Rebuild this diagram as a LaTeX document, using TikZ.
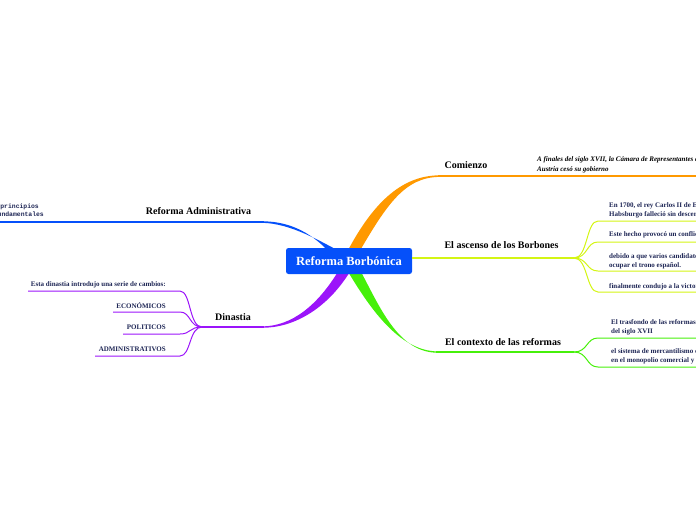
\documentclass[tikz,border=0pt]{standalone}
\usepackage{fontspec}
\setmainfont{Liberation Serif}
\setmonofont{Liberation Mono}
\usetikzlibrary{calc,positioning}
\definecolor{mmblue}{RGB}{5,80,250}
\definecolor{mmorange}{RGB}{255,153,0}
\definecolor{mmlime}{RGB}{212,245,20}
\definecolor{mmgreen}{RGB}{70,240,10}
\definecolor{mmpurple}{RGB}{155,20,250}
\definecolor{mmnavy}{RGB}{30,38,85}

\begin{document}
\begin{tikzpicture}[x=1pt,y=-1pt,
    rootbox/.style={fill=mmblue,rounded corners=2.5pt,text=white,inner sep=0pt,
      minimum width=126pt,minimum height=26pt,font=\fontsize{12.5}{14}\selectfont\bfseries},
    topic/.style={inner sep=0pt,font=\fontsize{10}{12}\selectfont\bfseries},
    kid/.style={inner sep=0pt,text=mmnavy,align=left,font=\fontsize{7}{9}\selectfont\bfseries},
    twig/.style={line width=1pt}]
  \useasboundingbox (0,0) rectangle (696,520);
  \clip (0,0) rectangle (696,520);
  \coordinate (hub) at (349,261);

  % thick branches (tapered), drawn under the root box
  \fill[mmorange] ($(hub)+(-3,-7)$) .. controls (375,198) and (405,175.3) .. (440,175.3)
    -- (440,176.9) .. controls (405,177) and (387,204) .. ($(hub)+(9,-7)$) -- cycle;
  \fill[mmblue] ($(hub)+(-18,-7)$) .. controls (314,235) and (292,221.2) .. (262,221.3)
    -- (262,222.8) .. controls (292,223.4) and (321,242) .. ($(hub)+(-4,-7)$) -- cycle;
  \fill[mmpurple] ($(hub)+(-10,9)$) .. controls (318,305) and (292,326.3) .. (262,326.4)
    -- (262,327.7) .. controls (292,328.2) and (327,310) .. ($(hub)+(2,9)$) -- cycle;
  \fill[mmgreen] ($(hub)+(-2,9)$) .. controls (368,305) and (398,351.3) .. (438,351.4)
    -- (438,352.7) .. controls (398,353.2) and (379,305) .. ($(hub)+(11,9)$) -- cycle;

  \node[rootbox] (root) at (hub) {Reforma Borbónica};

  % Comienzo
  \coordinate (comS) at (438,176.1);
  \draw[mmorange,line width=1.4pt] (comS) -- (696,176.1);
  \node[topic] (com) at (466,165) {Comienzo};
  \node[inner sep=0pt,align=left,anchor=base west,font=\fontsize{7}{10}\selectfont\bfseries\itshape] (com1) at (537,171.5)
    {A finales del siglo XVII, la Cámara de Representantes de\\Austria cesó su gobierno};

  % El ascenso de los Borbones
  \coordinate (ascJ) at (574,258);
  \draw[mmlime,line width=1.4pt] (root.east |- ascJ) -- (ascJ);
  \node[topic] (asc) at (501.5,245) {El ascenso de los Borbones};
  \coordinate (asc1) at (598,221);
  \coordinate (asc2) at (598,242);
  \coordinate (asc3) at (598,271);
  \coordinate (asc4) at (598,292);
  \draw[mmlime,twig] (ascJ) .. controls +(14,0) and +(-12,0) .. (asc1) -- (696,221);
  \draw[mmlime,twig] (ascJ) .. controls +(14,0) and +(-12,0) .. (asc2) -- (696,242);
  \draw[mmlime,twig] (ascJ) .. controls +(14,0) and +(-12,0) .. (asc3) -- (696,271);
  \draw[mmlime,twig] (ascJ) .. controls +(14,0) and +(-12,0) .. (asc4) -- (696,292);
  \node[kid,anchor=base west] (a1) at (609,216.5) {En 1700, el rey Carlos II de España\\Habsburgo falleció sin descendencia};
  \node[kid,anchor=base west] (a2) at (609,236.5) {Este hecho provocó un conflicto};
  \node[kid,anchor=base west] (a3) at (609,267.5) {debido a que varios candidatos\\ocupar el trono español.};
  \node[kid,anchor=base west] (a4) at (609,288.5) {finalmente condujo a la victoria};

  % El contexto de las reformas
  \coordinate (ctxS) at (436,352);
  \coordinate (ctxJ) at (574,352);
  \draw[mmgreen,line width=1.4pt] (ctxS) -- (ctxJ);
  \node[topic] (ctx) at (503,342) {El contexto de las reformas};
  \coordinate (ctx1) at (598,338);
  \coordinate (ctx2) at (598,367);
  \draw[mmgreen,twig] (ctxJ) .. controls +(14,0) and +(-12,0) .. (ctx1) -- (696,338);
  \draw[mmgreen,twig] (ctxJ) .. controls +(14,0) and +(-12,0) .. (ctx2) -- (696,367);
  \node[kid,anchor=base west] (c1) at (611,333.5) {El trasfondo de las reformas\\del siglo XVII};
  \node[kid,anchor=base west] (c2) at (611,362.5) {el sistema de mercantilismo centrado\\en el monopolio comercial y};

  % Reforma Administrativa
  \coordinate (admS) at (264,222);
  \draw[mmblue,line width=1.3pt] (admS) -- (0,222);
  \node[topic] (adm) at (198.5,211) {Reforma Administrativa};
  \node[inner sep=0pt,align=right,anchor=base east,text=mmnavy,font=\fontsize{6.4}{8.5}\ttfamily\bfseries] (adm1) at (44,216.5)
    {principios\kern5pt\\fundamentales};

  % Dinastia
  \coordinate (dinJ) at (202,327);
  \draw[mmpurple,line width=1.4pt] (264,327) -- (dinJ);
  \node[topic] (din) at (233,317) {Dinastia};
  \coordinate (din1) at (180,291);
  \coordinate (din2) at (180,312);
  \coordinate (din3) at (180,334);
  \coordinate (din4) at (180,356);
  \draw[mmpurple,twig] (dinJ) .. controls +(-13,0) and +(11,0) .. (din1) -- (28,291);
  \draw[mmpurple,twig] (dinJ) .. controls +(-13,0) and +(11,0) .. (din2) -- (113,312);
  \draw[mmpurple,twig] (dinJ) .. controls +(-13,0) and +(11,0) .. (din3) -- (123,334);
  \draw[mmpurple,twig] (dinJ) .. controls +(-13,0) and +(11,0) .. (din4) -- (95,356);
  \node[kid,anchor=base east] (d1) at (166,286.5) {Esta dinastia introdujo una serie de cambios:};
  \node[kid,anchor=base east] (d2) at (166,308.5) {ECONÓMICOS};
  \node[kid,anchor=base east] (d3) at (166,329.5) {POLITICOS};
  \node[kid,anchor=base east] (d4) at (166,351.5) {ADMINISTRATIVOS};
\end{tikzpicture}
\end{document}
